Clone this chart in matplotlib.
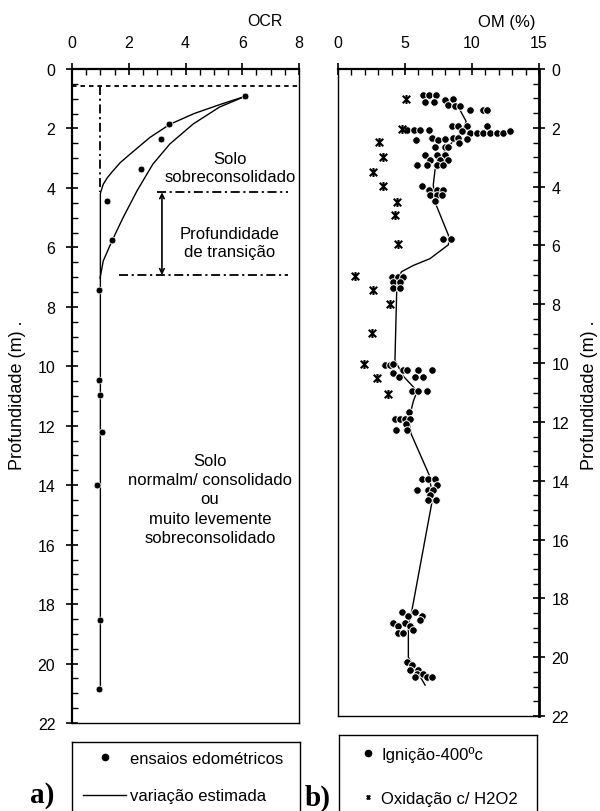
import matplotlib
matplotlib.use("Agg")
import matplotlib.pyplot as plt
from matplotlib.lines import Line2D
from matplotlib.path import Path
from matplotlib.ticker import MultipleLocator

plt.rcParams['font.family'] = ['Liberation Sans', 'DejaVu Sans']

# ---------------- (a) OCR profile ----------------
ocr_points = [6.1, 3.42, 3.14, 2.43, 1.22, 1.41, 0.95, 0.95, 1.0, 1.06, 0.88, 1.0, 0.95]
ocr_depth = [0.92, 1.86, 2.36, 3.38, 4.43, 5.74, 7.43, 10.47, 10.98, 12.2, 13.98, 18.55, 20.85]

# estimated variation: upper bound (continues as vertical line) and lower bound
upper_ocr = [6.1, 5.2, 4.3, 3.45, 2.75, 2.4, 2.04, 1.7, 1.45, 1.25, 1.1, 1.01, 1.0, 1.0]
upper_depth = [0.92, 1.2, 1.5, 1.86, 2.3, 2.58, 2.87, 3.15, 3.42, 3.65, 3.88, 4.15, 4.2, 20.85]
lower_ocr = [6.1, 5.2, 4.27, 3.45, 2.85, 2.29, 1.8, 1.41, 1.1, 0.99]
lower_depth = [0.92, 1.28, 1.85, 2.52, 3.2, 4.1, 5.0, 5.78, 6.46, 7.03]

ref_depth_top = 0.56          # dashed reference line
ocr_unit = 1.0
trans_top, trans_bot = 4.15, 6.93
trans_x = 3.17

# ---------------- (b) organic matter profile ----------------
ign_om = [6.37, 6.82, 7.31, 6.49, 7.16, 7.99, 8.61, 8.23, 8.73, 9.1, 9.85, 10.85, 11.1,
          5.17, 5.67, 6.12, 6.82, 8.48, 8.98, 9.6, 11.1, 9.23, 9.85, 10.35, 10.85, 11.34, 11.84, 12.34, 12.84,
          5.82, 6.99, 7.49, 7.99, 8.61, 8.98, 9.6, 9.05, 7.24, 7.99, 8.23,
          6.49, 7.36, 7.99, 6.86, 7.61, 8.23, 5.92, 6.62, 7.36, 7.86,
          6.24, 6.82, 7.36, 7.86, 6.86, 7.36, 7.74, 7.24,
          7.81, 8.41,
          4.0, 4.5, 4.87, 4.13, 4.63, 4.13, 4.63,
          3.51, 3.88, 4.13, 4.83, 5.17, 5.99, 6.99, 4.08, 4.58, 5.74, 6.37,
          5.5, 5.99, 6.62,
          5.3, 4.25, 4.63, 5.0, 5.37, 5.07, 4.33, 5.17,
          6.24, 6.74, 7.24, 7.36, 5.87, 6.74, 7.11, 6.86, 6.74, 7.31,
          4.75, 5.75, 5.25, 6.24, 6.12, 4.08, 5.0, 4.5, 5.37, 5.62, 4.5, 4.87,
          5.12, 5.5, 5.37, 5.99, 5.87, 6.37, 5.75, 6.62, 6.99]
ign_depth = [0.9, 0.9, 0.9, 1.12, 1.12, 1.04, 1.01, 1.21, 1.25, 1.25, 1.39, 1.39, 1.39,
             2.07, 2.07, 2.07, 2.07, 1.95, 1.95, 1.95, 1.95, 2.12, 2.18, 2.18, 2.18, 2.18, 2.18, 2.18, 2.12,
             2.41, 2.35, 2.41, 2.38, 2.35, 2.35, 2.37, 2.52, 2.66, 2.64, 2.66,
             2.94, 2.94, 2.94, 3.09, 3.09, 3.09, 3.28, 3.28, 3.28, 3.28,
             3.99, 4.11, 4.11, 4.11, 4.28, 4.28, 4.28, 4.48,
             5.78, 5.78,
             7.06, 7.06, 7.06, 7.23, 7.23, 7.46, 7.46,
             10.07, 10.07, 10.02, 10.24, 10.24, 10.24, 10.24, 10.35, 10.47, 10.47, 10.47,
             10.96, 10.96, 10.96,
             11.66, 11.89, 11.89, 11.89, 11.89, 12.06, 12.26, 12.26,
             13.93, 13.93, 13.93, 14.14, 14.33, 14.33, 14.33, 14.48, 14.67, 14.67,
             18.47, 18.47, 18.59, 18.59, 18.73, 18.84, 18.84, 18.93, 18.93, 19.08, 19.18, 19.18,
             20.15, 20.27, 20.43, 20.43, 20.57, 20.57, 20.69, 20.69, 20.69]

trend_om = [9.0, 9.1, 9.56, 9.3, 8.5, 7.6, 7.24, 7.11, 7.24, 8.23, 8.3, 8.23, 6.86, 5.62, 4.75,
            4.5, 4.38, 4.25, 4.88, 5.62, 5.9, 5.62, 5.45, 5.3, 5.45, 6.8, 7.0, 6.99, 5.49, 5.25,
            5.25, 5.25, 5.8, 6.5]
trend_depth = [1.2, 1.39, 1.78, 2.1, 2.5, 3.0, 3.43, 3.94, 4.53, 5.64, 5.8, 5.98, 6.45, 6.68, 6.89,
               7.1, 7.57, 9.9, 10.45, 10.81, 10.96, 11.3, 11.62, 12.0, 12.4, 13.8, 14.4, 14.78, 18.47, 18.9,
               19.27, 20.0, 20.4, 20.95]

h2o2_om = [5.07, 4.75, 3.08, 3.33, 2.59, 3.33, 4.38, 4.25, 4.45, 1.27, 2.64, 3.88, 2.56, 1.94, 2.93, 3.76]
h2o2_depth = [1.01, 2.03, 2.49, 3.0, 3.49, 3.97, 4.53, 4.98, 5.96, 7.03, 7.52, 8.0, 8.99, 10.04, 10.52, 11.04]

depth_ticks = list(range(0, 23, 2))

# star marker: an x crossed by a vertical bar
star = Path([(-1, -1), (1, 1), (-1, 1), (1, -1), (0, -1.2), (0, 1.2)],
            [Path.MOVETO, Path.LINETO, Path.MOVETO, Path.LINETO, Path.MOVETO, Path.LINETO])

W, H = 600, 812
fig = plt.figure(figsize=(W / 100, H / 100), dpi=100)


def frac(x0, y0, x1, y1):
    return [x0 / W, 1 - y1 / H, (x1 - x0) / W, (y1 - y0) / H]


TICK_FS = 11.5
TEXT_FS = 12

# ---------------- panel a ----------------
ax = fig.add_axes(frac(72, 70, 299, 724))
ax.set_xlim(0, 8)
ax.set_ylim(22, 0)
ax.xaxis.tick_top()
ax.set_xticks([0, 2, 4, 6, 8])
ax.xaxis.set_minor_locator(MultipleLocator(0.5))
ax.set_yticks(depth_ticks)
ax.yaxis.set_minor_locator(MultipleLocator(0.5))
ax.tick_params(which='major', direction='inout', length=8, width=1.2, labelsize=TICK_FS,
               top=True, bottom=False, left=True, right=False)
ax.tick_params(axis='x', which='major', pad=10)
ax.tick_params(axis='y', which='major', pad=8)
ax.tick_params(which='minor', direction='in', length=4, width=1.0,
               top=True, bottom=False, left=True, right=False)
for s, lw in (('top', 1.6), ('left', 1.6), ('right', 1.0), ('bottom', 1.0)):
    ax.spines[s].set_linewidth(lw)

ax.plot(upper_ocr, upper_depth, color='k', lw=1.0)
ax.plot(lower_ocr, lower_depth, color='k', lw=1.0)
ax.scatter(ocr_points, ocr_depth, s=24, color='k', edgecolors='white', linewidths=0.5, zorder=5)

ax.axhline(ref_depth_top, color='k', lw=1.3, dashes=(2.5, 2.2))
ax.plot([ocr_unit, ocr_unit], [ref_depth_top, trans_top], color='k', lw=1.3, dashes=(5, 2, 1.2, 2))
ax.plot([3.0, 7.6], [trans_top, trans_top], color='k', lw=1.3, dashes=(5, 2, 1.2, 2))
ax.plot([1.66, 7.6], [trans_bot, trans_bot], color='k', lw=1.3, dashes=(5, 2, 1.2, 2))
ax.annotate('', xy=(trans_x, trans_top), xytext=(trans_x, trans_bot),
            arrowprops=dict(arrowstyle='<->', color='k', lw=1.2,
                            mutation_scale=8, shrinkA=0, shrinkB=0))

ax.text(5.57, 3.31, 'Solo\nsobreconsolidado', ha='center', va='center',
        fontsize=TEXT_FS, linespacing=1.3)
ax.text(5.57, 5.83, 'Profundidade\nde transição', ha='center', va='center',
        fontsize=TEXT_FS, linespacing=1.3)
ax.text(4.86, 14.46, 'Solo\nnormalm/ consolidado\nou\nmuito levemente\nsobreconsolidado',
        ha='center', va='center', fontsize=TEXT_FS, linespacing=1.35)

# ---------------- panel b ----------------
bx = fig.add_axes(frac(338, 70, 539, 717))
bx.set_xlim(0, 15)
bx.set_ylim(22, 0)
bx.xaxis.tick_top()
bx.yaxis.tick_right()
bx.set_xticks([0, 5, 10, 15])
bx.xaxis.set_minor_locator(MultipleLocator(1))
bx.set_yticks(depth_ticks)
bx.yaxis.set_minor_locator(MultipleLocator(0.5))
bx.tick_params(which='major', direction='inout', length=8, width=1.2, labelsize=TICK_FS,
               top=True, bottom=False, left=False, right=True)
bx.tick_params(axis='x', which='major', pad=10)
bx.tick_params(axis='y', which='major', pad=5)
bx.tick_params(which='minor', direction='in', length=4, width=1.0,
               top=True, bottom=False, left=False, right=True)
for s, lw in (('top', 1.6), ('right', 2.0), ('left', 1.0), ('bottom', 1.0)):
    bx.spines[s].set_linewidth(lw)

bx.plot(trend_om, trend_depth, color='k', lw=1.0, zorder=2)
bx.scatter(ign_om, ign_depth, s=30, color='k', edgecolors='white', linewidths=0.7, zorder=4)
bx.scatter(h2o2_om, h2o2_depth, s=42, marker=star, color='k', linewidths=1.5, zorder=4)

# axis titles
fig.text(265 / W, 1 - 21 / H, 'OCR', ha='center', va='center', fontsize=11.5)
fig.text(507 / W, 1 - 22 / H, 'OM (%)', ha='center', va='center', fontsize=12)
fig.text(18 / W, 1 - 395 / H, 'Profundidade (m) .', ha='center', va='center',
         rotation=90, fontsize=13)
fig.text(590 / W, 1 - 395 / H, 'Profundidade (m) .', ha='center', va='center',
         rotation=90, fontsize=13)

# ---------------- legends ----------------
la = fig.add_axes(frac(72, 743, 300, 830))
la.set_xticks([])
la.set_yticks([])
for s in la.spines.values():
    s.set_linewidth(1.0)
la.legend([Line2D([], [], ls='none', marker='o', color='k', markersize=4.5),
           Line2D([], [], color='k', lw=1.0)],
          ['ensaios edométricos', 'variação estimada'],
          loc='upper left', bbox_to_anchor=(11 / 228, 1 - 9 / 87), frameon=False,
          fontsize=TEXT_FS, handlelength=2.6, handletextpad=0.25, labelspacing=1.35,
          borderpad=0, borderaxespad=0)

lb = fig.add_axes(frac(339, 736, 537, 830))
lb.set_xticks([])
lb.set_yticks([])
for s in lb.spines.values():
    s.set_linewidth(1.0)
lb.legend([Line2D([], [], ls='none', marker='o', color='k', markersize=4.5),
           Line2D([], [], ls='none', marker=star, color='k', markersize=3.2, markeredgewidth=1.2)],
          ['Ignição-400ºc', 'Oxidação c/ H2O2'],
          loc='upper left', bbox_to_anchor=(24 / 198, 1 - 11 / 94), frameon=False,
          fontsize=TEXT_FS, handlelength=0.6, handletextpad=0.5, labelspacing=1.75,
          borderpad=0, borderaxespad=0)

fig.text(42 / W, 1 - 796 / H, 'a)', ha='center', va='center', fontsize=21,
         fontweight='bold', family=['Liberation Serif', 'DejaVu Serif'])
fig.text(318 / W, 1 - 798 / H, 'b)', ha='center', va='center', fontsize=21,
         fontweight='bold', family=['Liberation Serif', 'DejaVu Serif'])

fig.savefig('out.png', dpi=100)
